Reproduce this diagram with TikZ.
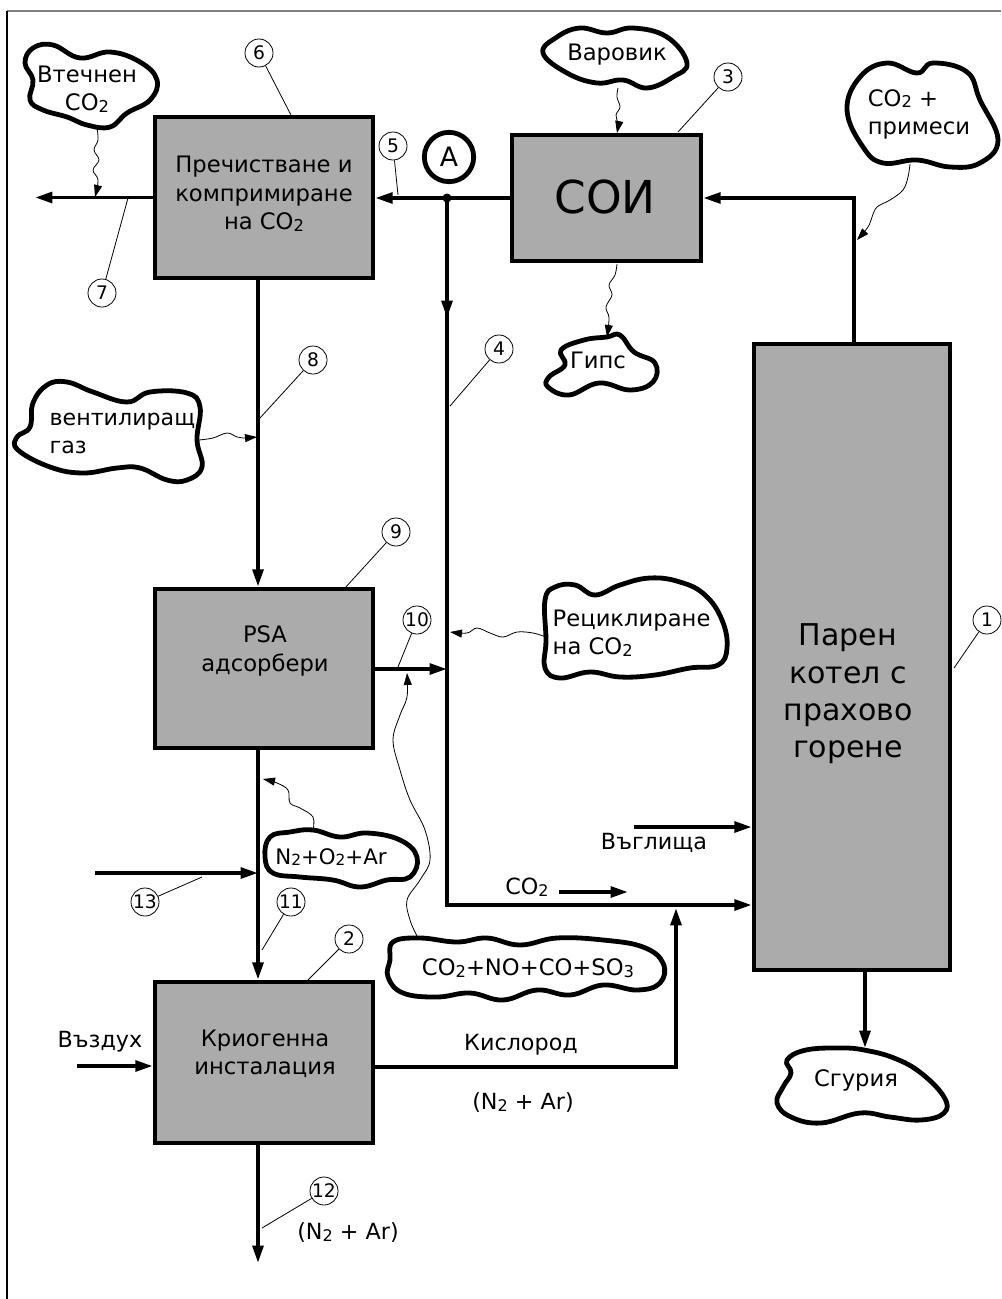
\documentclass[tikz,border=0pt]{standalone}
\usepackage{fontspec}
\setmainfont{DejaVu Sans}
\usetikzlibrary{arrows.meta}
\newcommand{\dn}[1]{\raisebox{-0.15ex}{\scalebox{0.72}{#1}}}
\definecolor{boxgray}{HTML}{ABABAB}
\begin{document}
\begin{tikzpicture}[x=0.75pt,y=-0.75pt,
  box/.style={draw=black, line width=3.4pt, fill=boxgray, inner sep=0pt, rectangle},
  flow/.style={line width=2.8pt, -{Triangle[length=13pt,width=8pt]}},
  blob/.style={draw=black, line width=3.6pt, fill=white, line join=round},
  wavy/.style={line width=0.6pt, -{Triangle[length=9pt,width=6pt]}},
  lead/.style={line width=0.6pt},
  num/.style={circle, draw, line width=0.6pt, minimum size=21pt, inner sep=0pt, font=\fontsize{14}{14}\selectfont},
  btext/.style={align=center, font=\fontsize{17}{21.4}\selectfont},
  ctext/.style={align=center, font=\fontsize{17}{21}\selectfont},
  ptext/.style={font=\fontsize{16.7}{21}\selectfont},
  ]
\useasboundingbox (0,0) rectangle (1001,1299);
% frame
\draw[gray, line width=0.8pt] (7,11) -- (1001,11);
\draw[black, line width=0.8pt] (7,11) -- (7,1299);

% boxes
\node[box, minimum width=163.5pt, minimum height=120.75pt] (box6) at (264,197.5) {};
\node[box, minimum width=141.75pt, minimum height=94.5pt] (box3) at (606.5,198) {};
\node[box, minimum width=147pt, minimum height=469.5pt] (box1) at (852,657) {};
\node[box, minimum width=163.5pt, minimum height=119.25pt] (box9) at (264,668.5) {};
\node[box, minimum width=163.5pt, minimum height=120.75pt] (box2) at (264,1062.5) {};

\node[btext] (t6) at (264,194) {Пречистване и\\компримиране\\на CO\dn{2}};
\node[font=\fontsize{34}{34}\selectfont] (t3) at (605,197) {СОИ};
\node[align=center, font=\fontsize{22.5}{28}\selectfont] (t1) at (848,694) {Парен\\котел с\\прахово\\горене};
\node[btext] (t9) at (265,651) {PSA\\адсорбери};
\node[btext] (t2) at (265,1054) {Криогенна\\инсталация};

% coordinates
\coordinate (v) at (258,0);
\coordinate (J) at (447,198);
\coordinate (Jd) at (447,318);
\coordinate (Js) at (447,300);
\coordinate (C) at (447,905);
\coordinate (R) at (676,1067);
\coordinate (Rt) at (676,908);
\coordinate (T) at (854,198);
\coordinate (out7) at (35,197.5);
\coordinate (out12) at (258,1263);
\coordinate (in13) at (95,873);
\coordinate (air) at (77,1066);
\coordinate (p10) at (447,669);
\coordinate (sg) at (865,1048);
\coordinate (coal) at (634,827);
\coordinate (co2a) at (559,892);
\coordinate (co2b) at (628,892);

% main connectors
\draw[flow] (box3.west) -- (box3.west -| box6.east);
\draw[flow] (Js) -- (C) -- (C -| box1.west);
\draw[flow] (J) -- (Jd);
\fill (J) circle (4.5);
\draw[flow] (box6.west) -- (out7);
\draw[flow] (box6.south -| v) -- (box9.north -| v);
\draw[flow] (box9.south -| v) -- (box2.north -| v);
\draw[flow] (box2.south -| v) -- (out12);
\draw[flow] (in13) -- (in13 -| v);
\draw[flow] (air) -- (air -| box2.west);
\draw[flow] (R -| box2.east) -- (R) -- (Rt);
\draw[flow] (box9.east |- p10) -- (p10);
\draw[flow] (box1.north -| T) -- (T) -- (T -| box3.east);
\draw[flow] (box1.south -| sg) -- (sg);
\draw[flow] (coal) -- (coal -| box1.west);
\draw[flow] (co2a) -- (co2b);

% A marker
\node[circle, draw, line width=3.6pt, minimum size=37pt, inner sep=0pt, font=\fontsize{20}{20}\selectfont, fill=white] (A) at (449,157) {A};

% clouds
\draw[blob] plot[smooth cycle, tension=0.7] coordinates {(33,48) (53,45) (80,58) (110,52) (140,62) (157,80) (150,100) (127,113) (110,127) (87,125) (67,117) (43,110) (30,100) (33,80) (25,63)};
\node[ctext] (c-vt) at (87,89) {Втечнен\\CO\dn{2}};

\draw[blob] plot[smooth cycle, tension=0.7] coordinates {(543,53) (557,37) (580,28) (607,33) (633,28) (667,37) (687,63) (673,77) (647,88) (623,80) (597,83) (567,73)};
\node[ctext] (c-var) at (617,55) {Варовик};

\draw[blob] plot[smooth cycle, tension=0.7] coordinates {(860,77) (887,63) (917,73) (933,63) (967,72) (980,100) (998,140) (980,163) (950,167) (917,160) (883,163) (863,147) (847,110)};
\node[ctext, align=left] (c-pr) at (919,114) {CO\dn{2} +\\примеси};

\draw[blob] plot[smooth cycle, tension=0.7] coordinates {(561,350) (584,340) (607,337) (620,335) (634,352) (655,363) (653,382) (630,390) (599,383) (569,395) (548,387) (549,377) (565,365)};
\node[ctext] (c-gi) at (598,360) {Гипс};

\draw[blob] plot[smooth cycle, tension=0.7] coordinates {(33,403) (47,385) (67,382) (93,392) (127,402) (150,392) (187,393) (200,407) (197,440) (202,467) (187,480) (167,480) (140,468) (117,468) (83,473) (50,467) (18,450) (17,437) (30,427)};
\node[ctext, align=left, anchor=west, font=\fontsize{16.6}{21}\selectfont] (c-ve) at (45,433.5) {вентилиращ\\газ};

\draw[blob] plot[smooth cycle, tension=0.7] coordinates {(545,600) (555,587) (575,585) (595,595) (620,585) (650,578) (680,582) (705,595) (722,620) (727,648) (718,665) (690,668) (655,675) (620,677) (590,672) (560,678) (545,668) (546,640)};
\node[ctext, align=left, anchor=west] (c-re) at (548,633.5) {Рециклиране\\на CO\dn{2}};

\draw[blob] plot[smooth cycle, tension=0.7] coordinates {(270,837) (290,832) (313,830) (340,837) (367,833) (400,840) (417,857) (410,877) (387,880) (360,887) (333,880) (300,877) (273,873) (265,857)};
\node[ctext, font=\fontsize{16}{21}\selectfont] (c-n2) at (331,857) {N\dn{2}+O\dn{2}+Ar};

\draw[blob] plot[smooth cycle, tension=0.7] coordinates {(393,942) (420,938) (457,942) (487,938) (520,945) (557,938) (603,940) (643,947) (663,963) (660,983) (637,990) (603,985) (570,995) (537,990) (503,1000) (470,993) (437,997) (403,993) (388,977) (390,960)};
\node[ctext] (c-co) at (528,968) {CO\dn{2}+NO+CO+SO\dn{3}};

\draw[blob] plot[smooth cycle, tension=0.7] coordinates {(787,1060) (806,1050) (841,1048) (864,1050) (894,1058) (921,1073) (944,1097) (944,1113) (921,1120) (890,1117) (860,1113) (821,1123) (791,1117) (777,1103) (783,1087) (791,1073)};
\node[ctext] (c-sg) at (856,1080) {Сгурия};

% wavy feeds
\draw[wavy] plot[smooth, tension=0.6] coordinates {(97,128) (98,140) (94,150) (99,160) (93,170) (98,180) (95,197)};
\draw[wavy] plot[smooth, tension=0.6] coordinates {(618,88) (617,97) (620,107) (616,115) (618,124) (617,133)};
\draw[wavy] plot[smooth, tension=0.6] coordinates {(617,264) (615,275) (609,285) (612,295) (606,307) (609,318) (607,337)};
\draw[wavy] plot[smooth, tension=0.6] coordinates {(910,164) (908,177) (903,190) (890,200) (877,207) (872,217) (868,227) (857,240)};
\draw[wavy] plot[smooth, tension=0.6] coordinates {(199,440) (213,438) (227,433) (237,437) (243,438) (257,437)};
\draw[wavy] plot[smooth, tension=0.6] coordinates {(546,637) (533,633) (517,632) (503,637) (490,633) (477,628) (467,633) (450,632)};
\draw[wavy] plot[smooth, tension=0.6] coordinates {(417,936) (410,920) (407,900) (420,880) (430,860) (425,830) (410,800) (400,770) (393,740) (400,715) (407,697) (407,673)};
\draw[wavy] plot[smooth, tension=0.6] coordinates {(313,831) (313,817) (300,808) (290,803) (288,790) (277,783) (263,779)};

% plain labels
\node[ptext] (l-air) at (100,1042) {Въздух};
\node[ptext] (l-ox) at (521,1045) {Кислород};
\node[ptext] (l-na1) at (523,1103) {(N\dn{2} + Ar)};
\node[ptext] (l-na2) at (348,1233) {(N\dn{2} + Ar)};
\node[ptext] (l-coal) at (654,843) {Въглища};
\node[ptext] (l-co2) at (527,887) {CO\dn{2}};

% numbered markers
\node[num] (n1) at (987,620) {1};
\node[num] (n2) at (349,939) {2};
\node[num] (n3) at (728,77) {3};
\node[num] (n4) at (499,349) {4};
\node[num] (n5) at (393,146) {5};
\node[num] (n6) at (259,53) {6};
\node[num] (n7) at (102,293) {7};
\node[num] (n8) at (313,360) {8};
\node[num] (n9) at (396,532) {9};
\node[num] (n10) at (417,620) {10};
\node[num] (n11) at (291,902) {11};
\node[num] (n12) at (324,1191) {12};
\node[num] (n13) at (145,902) {13};
\draw[lead] (n1) -- (954,668);
\draw[lead] (n2) -- (308,980);
\draw[lead] (n3) -- (678,132);
\draw[lead] (n4) -- (450,406);
\draw[lead] (n5) -- (398,195);
\draw[lead] (n6) -- (292,117);
\draw[lead] (n7) -- (128,198);
\draw[lead] (n8) -- (260,418);
\draw[lead] (n9) -- (345,588);
\draw[lead] (n10) -- (398,667);
\draw[lead] (n11) -- (262,950);
\draw[lead] (n12) -- (262,1228);
\draw[lead] (n13) -- (202,877);
\end{tikzpicture}
\end{document}
